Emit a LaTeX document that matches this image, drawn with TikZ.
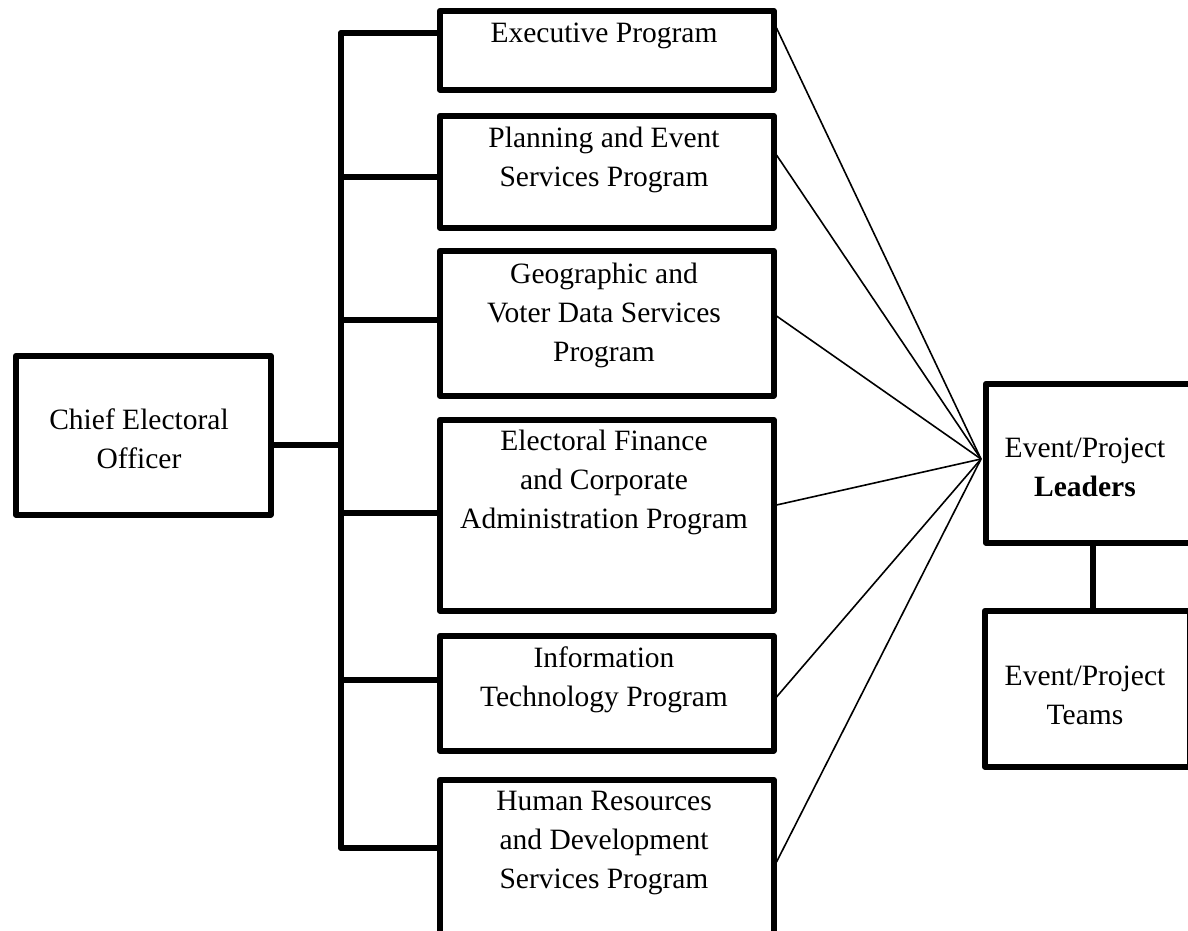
\documentclass[tikz,border=0pt]{standalone}
\usepackage{fontspec}
\setmainfont{Liberation Serif}
\newcommand\firstln{\rule{0pt}{22pt}}
\begin{document}
\begin{tikzpicture}[x=1pt,y=-1pt,
  box/.style={draw, line width=5.5pt, line join=round, inner sep=0pt, anchor=north west},
  lbl/.style={anchor=north, inner sep=0pt, align=center, font=\fontsize{29.5}{39}\selectfont},
  bar/.style={line width=5.5pt, line cap=round},
  thin/.style={line width=1.6pt}]
\clip (0,0) rectangle (1188,930);
% boxes
\node[box, minimum width=255pt, minimum height=159pt] (ceo) at (13,353) {};
\node[box, minimum width=334pt, minimum height=79pt] (exec) at (437,8) {};
\node[box, minimum width=334pt, minimum height=112pt] (plan) at (437,113) {};
\node[box, minimum width=334pt, minimum height=145pt] (geo) at (437,248) {};
\node[box, minimum width=334pt, minimum height=191pt] (fin) at (437,417) {};
\node[box, minimum width=334pt, minimum height=115pt] (it) at (437,633) {};
\node[box, minimum width=334pt, minimum height=180pt] (hr) at (437,777) {};
\node[box, minimum width=240pt, minimum height=159pt] (lead) at (983,381) {};
\node[box, minimum width=205pt, minimum height=156pt] (team) at (982,608) {};
% texts
\node[lbl] (ceo-t) at (139,407) {\firstln Chief Electoral\\Officer};
\node[lbl] (exec-t) at (604,20) {\firstln Executive Program};
\node[lbl] (plan-t) at (604,125) {\firstln Planning and Event\\Services Program};
\node[lbl] (geo-t) at (604,261) {\firstln Geographic and\\Voter Data Services\\Program};
\node[lbl] (fin-t) at (604,428) {\firstln Electoral Finance\\and Corporate\\Administration Program};
\node[lbl] (it-t) at (604,645) {\firstln Information\\Technology Program};
\node[lbl] (hr-t) at (604,788) {\firstln Human Resources\\and Development\\Services Program};
\node[lbl] (lead-t) at (1085,435) {\firstln Event/Project\\\textbf{Leaders}};
\node[lbl] (team-t) at (1085,663) {\firstln Event/Project\\Teams};
% bus
\coordinate (b1) at (341,33);
\coordinate (b2) at (341,177);
\coordinate (b3) at (341,320);
\coordinate (b4) at (341,513);
\coordinate (b5) at (341,680);
\coordinate (b6) at (341,848);
\coordinate (bc) at (341,445);
\draw[bar] (b1) -- (b6);
\draw[bar] (b1) -- (b1 -| exec.west);
\draw[bar] (b2) -- (b2 -| plan.west);
\draw[bar] (b3) -- (b3 -| geo.west);
\draw[bar] (b4) -- (b4 -| fin.west);
\draw[bar] (b5) -- (b5 -| it.west);
\draw[bar] (b6) -- (b6 -| hr.west);
\draw[line width=5.5pt] (bc -| ceo.east) -- (bc);
% fan to leaders
\coordinate (hub) at (981,459);
\draw[thin] (exec.east |- 0,28) -- (hub);
\draw[thin] (plan.east |- 0,155) -- (hub);
\draw[thin] (geo.east |- 0,316) -- (hub);
\draw[thin] (fin.east |- 0,505) -- (hub);
\draw[thin] (it.east |- 0,697) -- (hub);
\draw[thin] (hr.east |- 0,862) -- (hub);
% leaders to teams
\draw[line width=5.5pt] (lead.south -| 1093,0) -- (team.north -| 1093,0);
\end{tikzpicture}
\end{document}
